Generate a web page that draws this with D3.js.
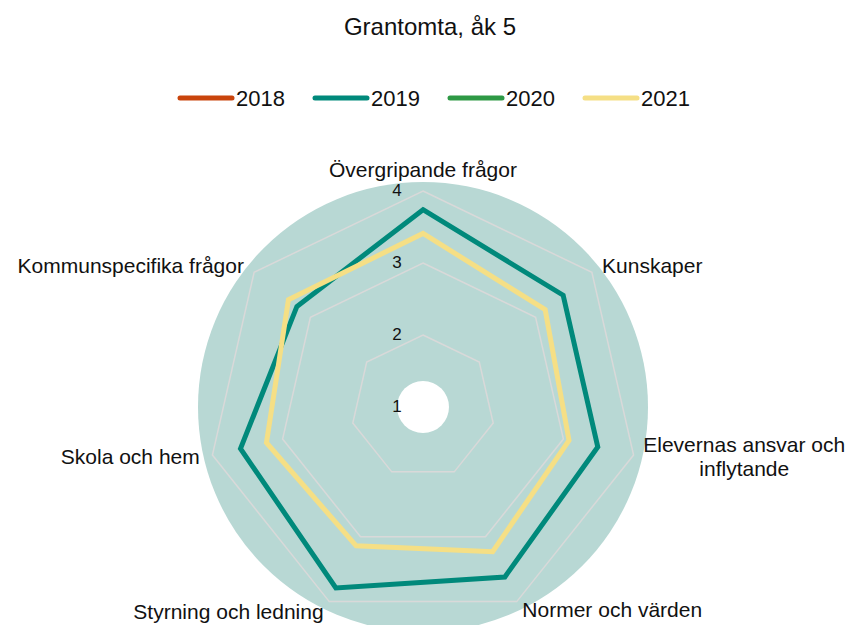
<!DOCTYPE html>
<html>
<head>
<meta charset="utf-8">
<script src="https://cdn.jsdelivr.net/npm/d3@7"></script>
<style>
  body { margin: 0; background: #fff; }
  svg text { font-family: "Liberation Sans", Arial, sans-serif; fill: #111; }
</style>
</head>
<body>
<svg id="radar" width="855" height="625"></svg>
<script>
const title = "Grantomta, åk 5";
const axes = ["Övergripande frågor", "Kunskaper", "Elevernas ansvar och inflytande",
              "Normer och värden", "Styrning och ledning", "Skola och hem", "Kommunspecifika frågor"];
const years = ["2018", "2019", "2020", "2021"];
const colors = ["#c9440c", "#00897b", "#2e9945", "#f5df85"];
const values2018 = [];
const values2019 = [3.74, 3.49, 3.49, 3.62, 3.79, 3.60, 3.24];
const values2020 = [];
const values2021 = [3.41, 3.17, 3.08, 3.23, 3.14, 3.23, 3.39];
const ticks = [1, 2, 3, 4];

const width = 855, height = 625;
const cx = 423, cy = 407;
const svg = d3.select("#radar");

const r = d3.scaleLinear().domain([1, 4]).range([0, 216]);
const angle = d3.scaleLinear().domain([0, axes.length]).range([0, 2 * Math.PI]);

// background disc + hole
const g = svg.append("g").attr("transform", `translate(${cx},${cy})`);
g.append("circle").attr("r", 225).attr("fill", "#b8d8d4");
g.append("circle").attr("r", 26).attr("fill", "#fff");

// grid polygons
const radial = d3.lineRadial().curve(d3.curveLinearClosed);
g.append("g").selectAll("path")
  .data(ticks.slice(1))
  .join("path")
  .attr("d", t => radial(axes.map((a, i) => [angle(i), r(t)])))
  .attr("fill", "none")
  .attr("stroke", "#d9d9d9")
  .attr("stroke-width", 1.5);

// tick labels
g.append("g").selectAll("text")
  .data(ticks)
  .join("text")
  .attr("x", -26)
  .attr("y", t => -r(t) - 1)
  .attr("dy", "0.35em")
  .attr("text-anchor", "middle")
  .attr("font-size", 17)
  .text(t => t);

// series
const series = [values2018, values2019, values2020, values2021];
g.append("g").selectAll("path")
  .data(series.map((v, i) => ({ v, c: colors[i] })).filter(d => d.v.length))
  .join("path")
  .attr("d", d => radial(d.v.map((v, i) => [angle(i), r(v)])))
  .attr("fill", "none")
  .attr("stroke", d => d.c)
  .attr("stroke-width", 5)
  .attr("stroke-linejoin", "miter");

// axis labels
const labelR = 229;
const yShift = [-8, 1, 0, -4, -2, -1, 1];
axes.forEach((a, i) => {
  const ang = angle(i);
  const x = Math.sin(ang) * labelR, y = -Math.cos(ang) * labelR;
  const anchor = Math.abs(x) < 1 ? "middle" : (x > 0 ? "start" : "end");
  if (a === "Elevernas ansvar och inflytande") {
    const lines = ["Elevernas ansvar och", "inflytande"];
    const t = g.append("text").attr("font-size", 21).attr("text-anchor", "middle");
    const sp = t.selectAll("tspan").data(lines).join("tspan")
      .attr("x", 0)
      .attr("y", (d, j) => y - 13 + j * 24)
      .attr("dy", "0.35em")
      .text(d => d);
    const w = sp.nodes()[0].getComputedTextLength();
    sp.attr("x", x - 3 + w / 2);
    return;
  }
  g.append("text")
    .attr("x", x)
    .attr("y", y + yShift[i])
    .attr("dy", "0.35em")
    .attr("font-size", 21)
    .attr("text-anchor", anchor)
    .text(a);
});

// title
svg.append("text")
  .attr("x", 430).attr("y", 27)
  .attr("dy", "0.35em")
  .attr("text-anchor", "middle")
  .attr("font-size", 24)
  .text(title);

// legend
const legend = svg.append("g").attr("transform", "translate(178,98)");
const item = legend.selectAll("g").data(years).join("g")
  .attr("transform", (d, i) => `translate(${i * 135},0)`);
item.append("line")
  .attr("x1", 2).attr("x2", 54)
  .attr("stroke", (d, i) => colors[i])
  .attr("stroke-width", 5)
  .attr("stroke-linecap", "round");
item.append("text")
  .attr("x", 58).attr("dy", "0.35em")
  .attr("font-size", 22)
  .text(d => d);
</script>
</body>
</html>
